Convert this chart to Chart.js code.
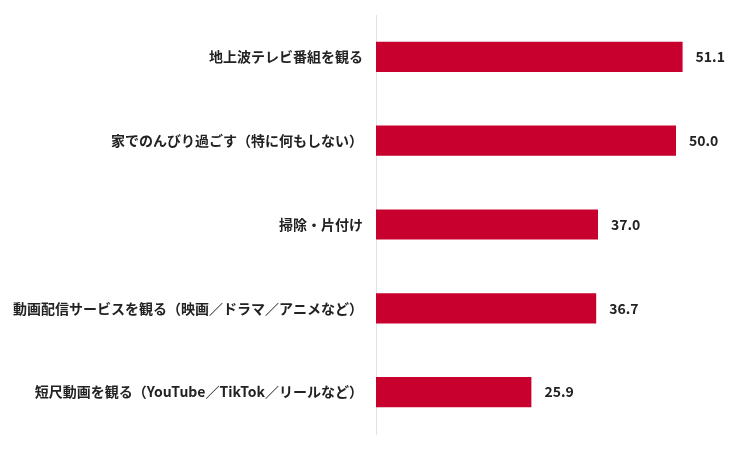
<!DOCTYPE html>
<html>
<head>
<meta charset="utf-8">
<script src="https://cdn.jsdelivr.net/npm/chart.js@4"></script>
<style>
    html, body { margin: 0; padding: 0; background: #fff; }
    #wrap { width: 753px; height: 449px; }
</style>
</head>
<body>
<div id="wrap"><canvas id="chart-bar--chart"></canvas></div>
<script>
const labels_bar = [
    '地上波テレビ番組を観る',
    '家でのんびり過ごす（特に何もしない）',
    '掃除・片付け',
    '動画配信サービスを観る（映画／ドラマ／アニメなど）',
    '短尺動画を観る（YouTube／TikTok／リールなど）',
];
const values_bar = [51.1, 50.0, 37.0, 36.7, 25.9];

const font_family = '"Noto Sans CJK JP", "Noto Sans", sans-serif';

// value labels at the end of each bar
const valueLabels = {
    id: 'valueLabels',
    afterDatasetsDraw(chart) {
        const ctx = chart.ctx;
        const meta = chart.getDatasetMeta(0);
        ctx.save();
        ctx.font = 'bold 14px ' + font_family;
        ctx.fillStyle = '#222';
        ctx.textAlign = 'left';
        ctx.textBaseline = 'middle';
        meta.data.forEach((bar, i) => {
            ctx.fillText(values_bar[i].toFixed(1), bar.x + 13, bar.y);
        });
        ctx.restore();
    }
};

const data_bar = {
    labels: labels_bar,
    datasets: [{
        data: values_bar,
        backgroundColor: '#C8002E',
        borderWidth: 0,
        barPercentage: 0.36,
        categoryPercentage: 1.0,
    }]
};

const config_bar = {
    type: 'bar',
    data: data_bar,
    options: {
        indexAxis: 'y',
        responsive: true,
        maintainAspectRatio: false,
        animation: false,
        layout: {
            padding: { top: 15, bottom: 15, left: 0, right: 17 }
        },
        plugins: {
            legend: { display: false },
            tooltip: { enabled: false },
        },
        scales: {
            x: {
                min: 0,
                max: 60,
                display: false,
            },
            y: {
                grid: { display: false, drawTicks: false },
                border: { display: true, color: '#e2e2e2', width: 1 },
                ticks: {
                    color: '#222',
                    padding: 13,
                    font: { family: font_family, size: 14, weight: 'bold' },
                },
                afterFit(scale) {
                    scale.width = 376;
                    scale.paddingTop = 0;
                    scale.paddingBottom = 0;
                }
            }
        }
    },
    plugins: [valueLabels]
};

var chart_bar = new Chart(
    document.getElementById('chart-bar--chart'),
    config_bar
);
</script>
</body>
</html>
